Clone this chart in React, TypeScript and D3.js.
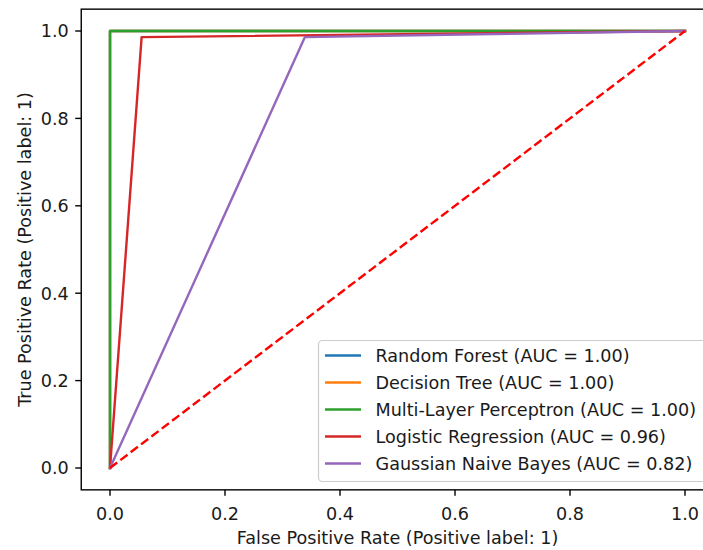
import React from "react";
import * as d3 from "d3";

const seriesNames = [
  "Random Forest (AUC = 1.00)",
  "Decision Tree (AUC = 1.00)",
  "Multi-Layer Perceptron (AUC = 1.00)",
  "Logistic Regression (AUC = 0.96)",
  "Gaussian Naive Bayes (AUC = 0.82)",
];
const seriesColors = ["#1f77b4", "#ff7f0e", "#2ca02c", "#d62728", "#9467bd"];
const rfFpr = [0, 0, 1];
const rfTpr = [0, 1, 1];
const dtFpr = [0, 0, 1];
const dtTpr = [0, 1, 1];
const mlpFpr = [0, 0, 1];
const mlpTpr = [0, 1, 1];
const lrFpr = [0, 0.055, 1];
const lrTpr = [0, 0.986, 1];
const gnbFpr = [0, 0.339, 1];
const gnbTpr = [0, 0.986, 1];
const diagFpr = [0, 1];
const diagTpr = [0, 1];
const xTicks = [0, 0.2, 0.4, 0.6, 0.8, 1.0];
const yTicks = [0, 0.2, 0.4, 0.6, 0.8, 1.0];

const W = 703;
const H = 550;
const FONT = "DejaVu Sans, sans-serif";
const FS = 17.6;

export default function App() {
  const x = d3.scaleLinear().domain([-0.05, 1.05]).range([81.25, 713.75]);
  const y = d3.scaleLinear().domain([-0.05, 1.05]).range([489.85, 9.15]);
  const line = d3
    .line<[number, number]>()
    .x((d) => x(d[0]))
    .y((d) => y(d[1]));
  const series = [
    [rfFpr, rfTpr],
    [dtFpr, dtTpr],
    [mlpFpr, mlpTpr],
    [lrFpr, lrTpr],
    [gnbFpr, gnbTpr],
  ].map(([f, t]) => f.map((v, i) => [v, t[i]] as [number, number]));
  const diag = diagFpr.map((v, i) => [v, diagTpr[i]] as [number, number]);

  const left = x(-0.05);
  const right = x(1.05);
  const top = y(1.05);
  const bottom = y(-0.05);

  const legX = 318.5;
  const legY = 340.5;
  const legRowY = [355.5, 382.5, 409.5, 436.5, 463.5];

  return (
    <svg
      width={W}
      height={H}
      style={{ position: "absolute", left: 0, top: 0, background: "#fff" }}
      fontFamily={FONT}
    >
      <rect x={0} y={0} width={W} height={H} fill="#fff" />
      {series.map((s, i) => (
        <path
          key={i}
          d={line(s) || ""}
          fill="none"
          stroke={seriesColors[i]}
          strokeWidth={2.4}
          strokeLinejoin="round"
          strokeLinecap="square"
        />
      ))}
      <path
        d={line(diag) || ""}
        fill="none"
        stroke="#ff0000"
        strokeWidth={2.4}
        strokeDasharray="9,4"
      />
      {/* spines */}
      <rect
        x={left}
        y={top}
        width={right - left}
        height={bottom - top}
        fill="none"
        stroke="#000"
        strokeWidth={1.4}
      />
      {xTicks.map((t) => (
        <g key={"x" + t}>
          <line x1={x(t)} x2={x(t)} y1={bottom} y2={bottom + 6} stroke="#000" strokeWidth={1.4} />
          <text x={x(t)} y={519.5} textAnchor="middle" fontSize={FS} fill="#1a1a1a">
            {t.toFixed(1)}
          </text>
        </g>
      ))}
      {yTicks.map((t) => (
        <g key={"y" + t}>
          <line x1={left - 6} x2={left} y1={y(t)} y2={y(t)} stroke="#000" strokeWidth={1.4} />
          <text x={left - 12.5} y={y(t) + 6.4} textAnchor="end" fontSize={FS} fill="#1a1a1a">
            {t.toFixed(1)}
          </text>
        </g>
      ))}
      <text x={(left + right) / 2} y={543.5} textAnchor="middle" fontSize={FS} fill="#1a1a1a">
        False Positive Rate (Positive label: 1)
      </text>
      <text
        transform={`translate(30.5, ${(top + bottom) / 2}) rotate(-90)`}
        textAnchor="middle"
        fontSize={FS}
        fill="#1a1a1a"
      >
        True Positive Rate (Positive label: 1)
      </text>
      {/* legend */}
      <rect
        x={legX}
        y={legY}
        width={400}
        height={141}
        rx={4}
        fill="#fff"
        fillOpacity={0.8}
        stroke="#cccccc"
        strokeWidth={1.2}
      />
      {seriesNames.map((n, i) => (
        <g key={n}>
          <line
            x1={325}
            x2={361}
            y1={legRowY[i]}
            y2={legRowY[i]}
            stroke={seriesColors[i]}
            strokeWidth={2.4}
          />
          <text x={375.5} y={legRowY[i] + 6.4} fontSize={FS} fill="#1a1a1a">
            {n}
          </text>
        </g>
      ))}
    </svg>
  );
}
